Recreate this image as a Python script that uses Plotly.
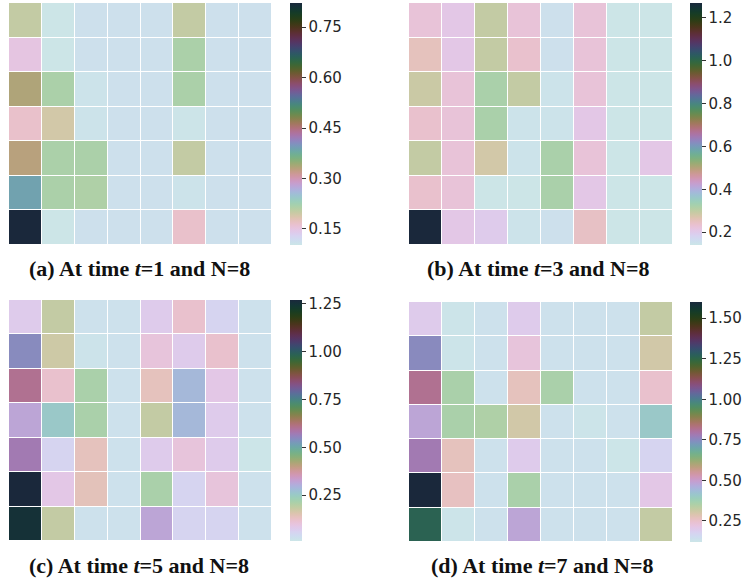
import math
import plotly.graph_objects as go

# ---- data -------------------------------------------------------------
rows = list(range(7))
cols = list(range(8))

vals_t1 = [
    [0.201, 0.102, 0.111, 0.110, 0.111, 0.201, 0.111, 0.110],
    [0.149, 0.102, 0.111, 0.111, 0.110, 0.217, 0.111, 0.111],
    [0.334, 0.217, 0.106, 0.111, 0.111, 0.217, 0.110, 0.111],
    [0.165, 0.191, 0.106, 0.111, 0.110, 0.104, 0.111, 0.111],
    [0.329, 0.217, 0.217, 0.111, 0.111, 0.201, 0.111, 0.110],
    [0.388, 0.217, 0.214, 0.110, 0.111, 0.106, 0.111, 0.111],
    [0.822, 0.102, 0.111, 0.111, 0.110, 0.165, 0.111, 0.111],
]
vals_t3 = [
    [0.225, 0.208, 0.295, 0.225, 0.154, 0.225, 0.140, 0.140],
    [0.253, 0.208, 0.295, 0.237, 0.154, 0.225, 0.140, 0.140],
    [0.288, 0.225, 0.321, 0.295, 0.147, 0.225, 0.140, 0.140],
    [0.237, 0.225, 0.321, 0.147, 0.147, 0.208, 0.140, 0.140],
    [0.295, 0.225, 0.280, 0.147, 0.321, 0.225, 0.140, 0.208],
    [0.237, 0.225, 0.140, 0.140, 0.321, 0.208, 0.140, 0.140],
    [1.270, 0.208, 0.197, 0.147, 0.154, 0.245, 0.140, 0.140],
]
vals_t5 = [
    [0.074, 0.183, 0.023, 0.023, 0.074, 0.118, 0.054, 0.023],
    [0.545, 0.172, 0.018, 0.023, 0.101, 0.074, 0.118, 0.023],
    [0.602, 0.118, 0.212, 0.023, 0.136, 0.285, 0.086, 0.023],
    [0.316, 0.254, 0.212, 0.023, 0.183, 0.285, 0.074, 0.023],
    [0.573, 0.054, 0.136, 0.023, 0.074, 0.101, 0.074, 0.012],
    [1.270, 0.086, 0.140, 0.023, 0.212, 0.054, 0.101, 0.023],
    [1.250, 0.183, 0.023, 0.023, 0.316, 0.054, 0.054, 0.023],
]
vals_t7 = [
    [0.195, 0.127, 0.135, 0.195, 0.135, 0.135, 0.135, 0.323],
    [0.749, 0.127, 0.135, 0.227, 0.135, 0.135, 0.135, 0.304],
    [0.816, 0.357, 0.135, 0.268, 0.357, 0.135, 0.135, 0.247],
    [0.480, 0.357, 0.350, 0.304, 0.135, 0.127, 0.135, 0.407],
    [0.782, 0.268, 0.135, 0.195, 0.135, 0.135, 0.122, 0.172],
    [1.600, 0.262, 0.135, 0.357, 0.135, 0.135, 0.135, 0.209],
    [1.262, 0.127, 0.135, 0.480, 0.135, 0.135, 0.135, 0.323],
]

ranges = [(0.102, 0.822), (0.14, 1.27), (0.01, 1.27), (0.12, 1.60)]
tick_sets = [
    [0.15, 0.30, 0.45, 0.60, 0.75],
    [0.2, 0.4, 0.6, 0.8, 1.0, 1.2],
    [0.25, 0.50, 0.75, 1.00, 1.25],
    [0.25, 0.50, 0.75, 1.00, 1.25, 1.50],
]
tick_fmt = [".2f", ".1f", ".2f", ".2f"]
captions = [
    "<b>(a) At time <i>t</i>=1 and N=8</b>",
    "<b>(b) At time <i>t</i>=3 and N=8</b>",
    "<b>(c) At time <i>t</i>=5 and N=8</b>",
    "<b>(d) At time <i>t</i>=7 and N=8</b>",
]


# ---- multi-turn cubehelix colour scale (light -> dark) -----------------
def helix_scale(light=0.87, dark=0.15, hue=0.75, c0=-0.18, turns=5.1, n=256):
    scale = []
    for i in range(n):
        t = i / (n - 1)
        x = light - (light - dark) * t
        a = hue * x * (1 - x) / 2
        phi = 2 * math.pi * (c0 + turns * t)
        cp, sp = math.cos(phi), math.sin(phi)
        r = x + a * (-0.14861 * cp + 1.78277 * sp)
        g = x + a * (-0.29227 * cp - 0.90649 * sp)
        b = x + a * (1.97294 * cp)
        rgb = [max(0, min(1, v)) for v in (r, g, b)]
        scale.append([t, "rgb(%d,%d,%d)" % tuple(round(v * 255) for v in rgb)])
    return scale


cscale = helix_scale()

W, H = 745, 583
# pixel boxes of the four heatmaps: (left, right, top, bottom)
boxes = [(9, 272, 3, 245), (409, 673, 3, 245), (9, 272, 300, 541), (409, 673, 302, 542)]
cbar_left = [290, 690, 290, 690]
cap_pos = [(139, 268), (538, 268), (139, 565), (542, 565)]

fig = go.Figure()
data_sets = [vals_t1, vals_t3, vals_t5, vals_t7]
for k, z in enumerate(data_sets):
    l, r, t, b = boxes[k]
    ax = "" if k == 0 else str(k + 1)
    zmin, zmax = ranges[k]
    fig.add_trace(go.Heatmap(
        z=z, x=cols, y=rows, xaxis="x" + ax, yaxis="y" + ax,
        colorscale=cscale, zmin=zmin, zmax=zmax, xgap=1, ygap=1,
        colorbar=dict(
            x=cbar_left[k] / W, xanchor="left", xref="paper",
            y=1 - t / H, yanchor="top", yref="paper",
            len=b - t, lenmode="pixels", thickness=12, outlinewidth=0,
            ticks="outside", ticklen=4, tickwidth=1, tickcolor="#333333",
            tickvals=tick_sets[k], tickformat=tick_fmt[k],
            tickfont=dict(family="DejaVu Sans", size=15, color="#262626"),
            xpad=0, ypad=0,
        ),
    ))
    fig.layout["xaxis" + ax] = dict(
        domain=[l / W, r / W], anchor="y" + ax, visible=False,
        range=[-0.5, 7.5], fixedrange=True,
    )
    fig.layout["yaxis" + ax] = dict(
        domain=[1 - b / H, 1 - t / H], anchor="x" + ax, visible=False,
        range=[6.5, -0.5], fixedrange=True,
    )
    cx, cy = cap_pos[k]
    fig.add_annotation(
        text=captions[k], x=cx / W, y=1 - cy / H, xref="paper", yref="paper",
        showarrow=False, xanchor="center", yanchor="middle",
        font=dict(family="Liberation Serif", size=22, color="#111111"),
    )

fig.update_layout(
    width=W, height=H, margin=dict(l=0, r=0, t=0, b=0),
    paper_bgcolor="white", plot_bgcolor="white", showlegend=False,
)
fig.write_html("out.html")
